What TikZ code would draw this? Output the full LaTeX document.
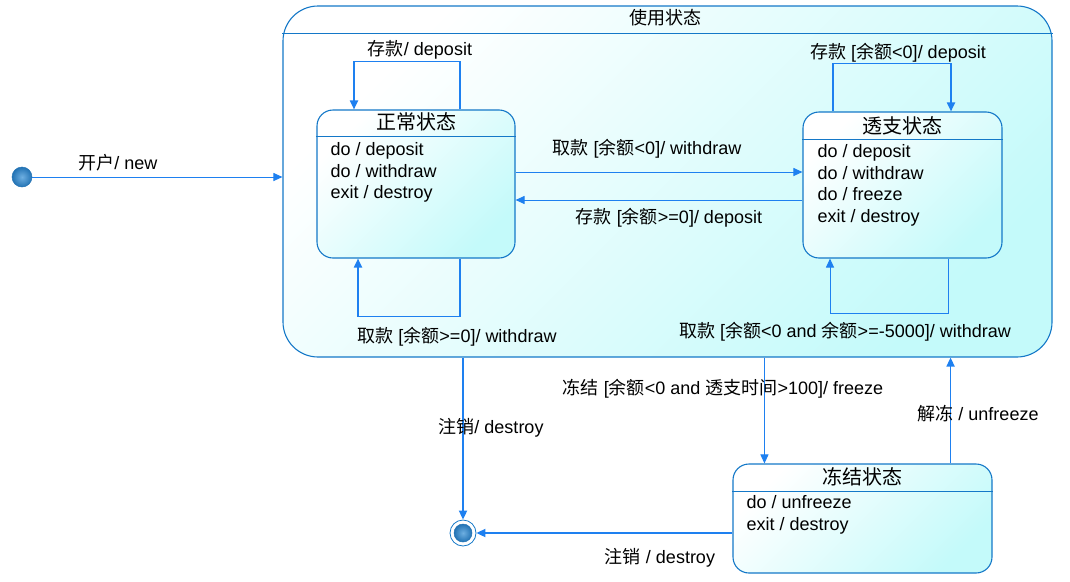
\documentclass[tikz,border=0pt]{standalone}
\usepackage{fontspec}
\setmainfont{Liberation Sans}
\newfontfamily\cjk{Noto Sans CJK SC}
\usetikzlibrary{arrows.meta}
\definecolor{edgeblue}{RGB}{30,128,240}
\definecolor{boxblue}{RGB}{20,120,200}
\definecolor{palecyan}{RGB}{196,250,250}
\definecolor{ballin}{RGB}{110,175,225}
\definecolor{ballout}{RGB}{35,115,180}
\begin{document}
\begin{tikzpicture}[x=1pt,y=1pt,
  every node/.style={inner sep=0pt,font=\fontsize{18}{21.5}\selectfont},
  statebox/.style={draw=boxblue,line width=1.1pt,rounded corners=16pt,
    top color=white,bottom color=palecyan,shading angle=45},
  headline/.style={draw=boxblue,line width=1pt},
  body/.style={anchor=north west,align=left},
  dot/.style={circle,inner color=ballin,outer color=ballout,draw=ballout,line width=0.5pt},
  trans/.style={draw=edgeblue,line width=1.8pt,-{Triangle[length=9pt,width=8pt]}},
  thin trans/.style={trans,line width=1pt}]
\useasboundingbox (0,0) rectangle (1070,-581);
%composite
\node [statebox,rounded corners=35pt,minimum width=769pt,minimum height=351pt] (usage) at (667.5,-181.5) {};
\draw [headline] ([yshift=-28pt]usage.north west) -- ([yshift=-28pt]usage.north east);
\node (usagetitle) at (665,-18) {\cjk 使用状态};
%S0
\node [dot,minimum size=20pt] (init) at (22,-177) {};
%S1
\node [statebox,minimum width=198pt,minimum height=148pt] (normal) at (416,-184) {};
\draw [headline] ([yshift=-27pt]normal.north west) -- ([yshift=-27pt]normal.north east);
\node (normaltitle) at ([yshift=-12pt]normal.north) {\fontsize{20}{22}\selectfont\cjk 正常状态};
\node [body] (normalbody) at ([xshift=14pt,yshift=-33pt]normal.north west)
  {do / deposit\\do / withdraw\\exit / destroy};
%S2
\node [statebox,minimum width=199pt,minimum height=146pt] (overdraft) at (902.5,-185) {};
\draw [headline] ([yshift=-28pt]overdraft.north west) -- ([yshift=-28pt]overdraft.north east);
\node (overdrafttitle) at ([yshift=-14pt]overdraft.north) {\fontsize{20}{22}\selectfont\cjk 透支状态};
\node [body] (overdraftbody) at ([xshift=15pt,yshift=-33pt]overdraft.north west)
  {do / deposit\\do / withdraw\\do / freeze\\exit / destroy};
%S3
\node [statebox,minimum width=259pt,minimum height=109pt] (frozen) at (862.5,-518.5) {};
\draw [headline] ([yshift=-28pt]frozen.north west) -- ([yshift=-28pt]frozen.north east);
\node (frozentitle) at ([yshift=-13pt]frozen.north) {\fontsize{20}{22}\selectfont\cjk 冻结状态};
\node [body] (frozenbody) at ([xshift=14pt,yshift=-32pt]frozen.north west)
  {do / unfreeze\\exit / destroy};
%S4
\node [circle,minimum size=26pt,draw=boxblue,line width=0.8pt,fill=white] (final) at (463,-533) {};
\node [dot,minimum size=18pt] (finaldot) at (final) {};

%transitions
\draw [thin trans] (init) -- (init -| usage.west);
\node (lnew) at (118,-163) {{\cjk 开户}/ new};

\draw [trans] ([xshift=44pt]normal.north) -- ++(0,48) -| ([xshift=-62pt]normal.north);
\node (ldep1) at (420,-50) {{\cjk 存款}/ deposit};
\draw [trans] ([xshift=44pt]normal.south) -- ++(0,-58) -| ([xshift=-58pt]normal.south);
\node (lwd1) at (457,-337) {{\cjk 取款} [{\cjk 余额}>=0]/ withdraw};

\coordinate (wd) at ([yshift=12pt]normal.east);
\draw [thin trans] (wd) -- (wd -| overdraft.west);
\node (lwd2) at (647,-149) {{\cjk 取款} [{\cjk 余额}<0]/ withdraw};
\coordinate (dp) at ([yshift=-16pt]normal.east);
\draw [thin trans] (dp -| overdraft.west) -- (dp);
\node (ldep2) at (669,-218) {{\cjk 存款} [{\cjk 余额}>=0]/ deposit};

\draw [trans] ([xshift=-69.5pt]overdraft.north) -- ++(0,48) -| ([xshift=48.5pt]overdraft.north);
\node (ldep3) at (898,-53) {{\cjk 存款} [{\cjk 余额}<0]/ deposit};
\draw [thin trans] ([xshift=45.5pt]overdraft.south) -- ++(0,-55) -| ([xshift=-72.5pt]overdraft.south);
\node (lwd3) at (845,-332) {{\cjk 取款} [{\cjk 余额}<0 and {\cjk 余额}>=-5000]/ withdraw};

\coordinate (fz) at ([xshift=32pt]frozen.north west);
\draw [thin trans] (fz |- usage.south) -- (fz);
\node (lfreeze) at (723,-389) {{\cjk 冻结} [{\cjk 余额}<0 and {\cjk 透支时间}>100]/ freeze};
\coordinate (uf) at ([xshift=-42pt]frozen.north east);
\draw [trans] (uf) -- (uf |- usage.south);
\node (lunfreeze) at (978,-414) {{\cjk 解冻} / unfreeze};

\draw [trans] (final |- usage.south) -- (final.north);
\node (ldestroy1) at (491,-428) {{\cjk 注销}/ destroy};
\draw [trans] (frozen.west |- final) -- (final.east);
\node (ldestroy2) at (660,-558) {{\cjk 注销} / destroy};
\end{tikzpicture}
\end{document}
